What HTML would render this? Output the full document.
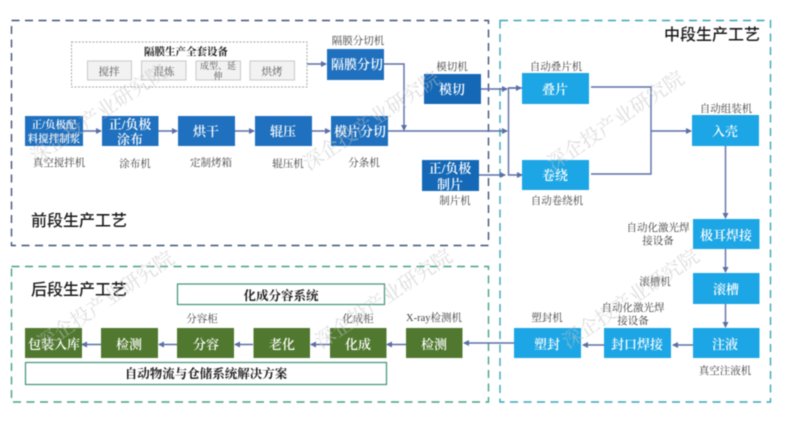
<!DOCTYPE html>
<html lang="zh">
<head>
<meta charset="utf-8">
<style>
html,body{margin:0;padding:0;background:#fff;width:788px;height:422px;overflow:hidden}
svg{display:block;filter:blur(.45px)}
text{font-family:"Liberation Serif","Noto Serif CJK SC",serif;text-anchor:middle}
.l{font-size:10.5px;fill:#404040}
.b{font-size:13px;fill:#fff;font-weight:600}
.s{font-size:11.5px;fill:#555}
.t{font-size:16px;fill:#1a1a1a;font-family:"Liberation Sans","Noto Sans CJK SC",sans-serif;font-weight:500}
.k{font-size:12.5px;fill:#1a1a1a;font-weight:700}
.w{font-size:20px;fill:#c4c4c4;opacity:.55;text-anchor:start}
.c{stroke:#5a6fa6;stroke-width:1.4;fill:none}
</style>
</head>
<body>
<svg width="788" height="422" viewBox="0 0 788 422" xmlns="http://www.w3.org/2000/svg">
<defs>
<marker id="a" markerWidth="6" markerHeight="6" refX="5" refY="3" orient="auto" markerUnits="userSpaceOnUse"><path d="M0 0L6 3L0 6z" fill="#5a6fa6"/></marker>
</defs>
<rect width="788" height="422" fill="#fff"/>

<!-- section frames -->
<rect x="11.5" y="20.5" width="477" height="225" fill="none" stroke="#3f5378" stroke-width="1.4" stroke-dasharray="8 5.5"/>
<rect x="500" y="20.5" width="270.5" height="381.5" fill="none" stroke="#3ba5b8" stroke-width="1.4" stroke-dasharray="8 5.5"/>
<rect x="11.5" y="266.5" width="477" height="135.5" fill="none" stroke="#46a184" stroke-width="1.4" stroke-dasharray="8 5.5"/>

<!-- separator group -->
<rect x="71.5" y="42" width="235.5" height="45" fill="#fff" stroke="#a8a8a8" stroke-dasharray="2 1.5"/>
<g fill="#f2f2f2" stroke="#c8c8c8">
<rect x="87.5" y="61" width="44" height="19"/>
<rect x="141.5" y="61" width="44.5" height="19"/>
<rect x="196" y="61" width="44.5" height="19"/>
<rect x="250" y="61" width="44.5" height="19"/>
</g>
<text class="k" x="186" y="55" style="font-size:10.5px">隔膜生产全套设备</text>
<text class="s" x="109" y="75" style="font-size:10.5px">搅拌</text>
<text class="s" x="164" y="75" style="font-size:10.5px">混炼</text>
<text class="s" x="218" y="69" style="font-size:9px">成型、延</text>
<text class="s" x="218" y="79" style="font-size:9px">伸</text>
<text class="s" x="272" y="75" style="font-size:10.5px">烘烤</text>

<!-- connectors -->
<path class="c" d="M307 64H326" marker-end="url(#a)"/>
<path class="c" d="M384 64H404V130" marker-end="url(#a)"/>
<path class="c" d="M83 131H101" marker-end="url(#a)"/>
<path class="c" d="M158 131H177" marker-end="url(#a)"/>
<path class="c" d="M235 131H254" marker-end="url(#a)"/>
<path class="c" d="M312 131H330" marker-end="url(#a)"/>
<path class="c" d="M388 131H507" marker-end="url(#a)"/>
<path class="c" d="M481 89H507" marker-end="url(#a)"/>
<path class="c" d="M479 175H505" marker-end="url(#a)"/>
<path class="c" d="M522 88H508.5V175H522" marker-end="url(#a)"/>
<path class="c" d="M508.5 88H521" marker-end="url(#a)"/>
<path class="c" d="M591 87H651V174H591"/>
<path class="c" d="M651 131H691" marker-end="url(#a)"/>
<path class="c" d="M725.5 146V218" marker-end="url(#a)"/>
<path class="c" d="M725.5 249V272" marker-end="url(#a)"/>
<path class="c" d="M725.5 304V327" marker-end="url(#a)"/>
<path class="c" d="M693 345H673" marker-end="url(#a)"/>
<path class="c" d="M604 345H583" marker-end="url(#a)"/>
<path class="c" d="M514 343H464" marker-end="url(#a)"/>
<path class="c" d="M406 344.5H387" marker-end="url(#a)"/>
<path class="c" d="M330 344.5H311" marker-end="url(#a)"/>
<path class="c" d="M253 344.5H235" marker-end="url(#a)"/>
<path class="c" d="M177 344.5H159" marker-end="url(#a)"/>
<path class="c" d="M101 344.5H82" marker-end="url(#a)"/>

<!-- blue boxes -->
<g fill="#1f70be">
<rect x="327" y="49" width="57" height="31"/>
<rect x="25" y="116" width="58" height="30"/>
<rect x="102" y="116" width="56.5" height="30"/>
<rect x="178" y="116" width="57" height="30"/>
<rect x="255" y="116" width="57" height="30"/>
<rect x="331" y="116" width="57" height="30"/>
</g>
<g fill="#1468b6">
<rect x="424" y="74" width="57" height="30"/>
<rect x="422" y="160" width="57" height="31"/>
</g>
<g fill="#1da6e5">
<rect x="522" y="73" width="67" height="31"/>
<rect x="522" y="160" width="67" height="30"/>
<rect x="692" y="115" width="67" height="31"/>
<rect x="693" y="219" width="66.5" height="30"/>
<rect x="693" y="273" width="66.5" height="31"/>
<rect x="693" y="328" width="66.5" height="30"/>
<rect x="604" y="328" width="67" height="30"/>
<rect x="514" y="328" width="67" height="30"/>
</g>
<g fill="#50792f">
<rect x="406" y="328" width="56.5" height="30"/>
<rect x="330" y="328" width="56.5" height="30"/>
<rect x="253.5" y="328" width="56.5" height="30"/>
<rect x="177" y="328" width="57" height="30"/>
<rect x="101" y="328" width="57" height="30"/>
<rect x="25" y="328" width="57" height="30"/>
</g>
<g fill="#fff" stroke="#3d9474" stroke-width="1.2">
<rect x="177.5" y="284" width="207" height="20.5"/>
<rect x="25.5" y="362.5" width="361" height="22"/>
</g>

<!-- box text -->
<text class="b" x="357" y="69">隔膜分切</text>
<text class="b" x="54" y="128" style="font-size:10.5px">正/负极配</text>
<text class="b" x="54" y="142" style="font-size:10.5px">料搅拌制浆</text>
<text class="b" x="130" y="129">正/负极</text>
<text class="b" x="130" y="144">涂布</text>
<text class="b" x="206" y="136">烘干</text>
<text class="b" x="283" y="136">辊压</text>
<text class="b" x="360" y="136">模片分切</text>
<text class="b" x="452" y="94">模切</text>
<text class="b" x="450" y="173">正/负极</text>
<text class="b" x="450" y="189">制片</text>
<text class="b" x="555" y="94">叠片</text>
<text class="b" x="555" y="180">卷绕</text>
<text class="b" x="725" y="136">入壳</text>
<text class="b" x="726" y="240">极耳焊接</text>
<text class="b" x="726" y="294">滚槽</text>
<text class="b" x="725" y="349">注液</text>
<text class="b" x="637" y="349">封口焊接</text>
<text class="b" x="547" y="349">塑封</text>
<text class="b" x="434" y="349">检测</text>
<text class="b" x="358" y="349">化成</text>
<text class="b" x="282" y="349">老化</text>
<text class="b" x="206" y="349">分容</text>
<text class="b" x="129" y="349">检测</text>
<text class="b" x="54" y="349">包装入库</text>
<text class="k" x="281" y="300">化成分容系统</text>
<text class="k" x="206" y="378">自动物流与仓储系统解决方案</text>

<!-- machine labels -->
<text class="l" x="358" y="44">隔膜分切机</text>
<text class="l" x="452" y="70">模切机</text>
<text class="l" x="556" y="70">自动叠片机</text>
<text class="l" x="726" y="112">自动组装机</text>
<text class="l" x="59" y="166">真空搅拌机</text>
<text class="l" x="135" y="167">涂布机</text>
<text class="l" x="211" y="166">定制烤箱</text>
<text class="l" x="288" y="167">辊压机</text>
<text class="l" x="364" y="166">分条机</text>
<text class="l" x="455" y="204">制片机</text>
<text class="l" x="557" y="204">自动卷绕机</text>
<text class="l" x="658" y="231">自动化激光焊</text>
<text class="l" x="658" y="244">接设备</text>
<text class="l" x="655" y="285">滚槽机</text>
<text class="l" x="725" y="374">真空注液机</text>
<text class="l" x="633" y="311">自动化激光焊</text>
<text class="l" x="633" y="324">接设备</text>
<text class="l" x="547" y="321">塑封机</text>
<text class="l" x="434" y="321">X-ray检测机</text>
<text class="l" x="358" y="322">化成柜</text>
<text class="l" x="202" y="322">分容柜</text>

<!-- titles -->
<text class="t" x="79" y="226">前段生产工艺</text>
<text class="t" x="712" y="40">中段生产工艺</text>
<text class="t" x="79" y="295">后段生产工艺</text>

<!-- watermarks -->
<text class="w" transform="translate(36 164) rotate(-34)">深企投产业研究院</text>
<text class="w" transform="translate(309 171) rotate(-34)">深企投产业研究院</text>
<text class="w" transform="translate(553 171) rotate(-34)">深企投产业研究院</text>
<text class="w" transform="translate(43 351) rotate(-34)">深企投产业研究院</text>
<text class="w" transform="translate(321 349) rotate(-34)">深企投产业研究院</text>
<text class="w" transform="translate(568 349) rotate(-34)">深企投产业研究院</text>
</svg>
</body>
</html>
